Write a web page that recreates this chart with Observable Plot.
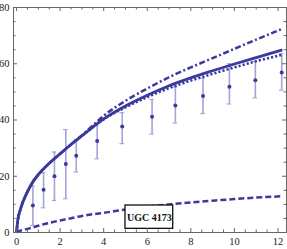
<!DOCTYPE html>
<html>
<head>
<meta charset="utf-8">
<script src="https://cdn.jsdelivr.net/npm/d3@7"></script>
<script src="https://cdn.jsdelivr.net/npm/@observablehq/plot@0.6"></script>
<style>
  html, body { margin: 0; padding: 0; background: white; }
  svg { display: block; }
</style>
</head>
<body>
<div id="chart"></div>
<script>
// Observed data (radius, velocity, error bounds)
const obsX  = [0.75, 1.24, 1.74, 2.26, 2.74, 3.70, 4.85, 6.22, 7.29, 8.56, 9.77, 10.96, 12.17];
const obsY  = [9.6, 15.2, 20.0, 24.4, 27.3, 32.5, 37.7, 41.2, 45.2, 48.5, 51.8, 54.1, 56.9];
const obsLo = [2.5, 8.8, 11.4, 12.0, 21.5, 26.2, 31.6, 35.0, 38.9, 42.3, 45.7, 47.9, 50.6];
const obsHi = [16.6, 21.3, 28.6, 36.6, 33.0, 38.6, 42.6, 47.3, 51.7, 54.9, 60.0, 60.9, 63.6];

// Model curves
const curveX   = [0, 0.05, 0.15, 0.3, 0.5, 0.75, 1, 1.5, 2, 2.5, 3, 3.5, 4, 5, 6, 7, 8, 9, 10, 11, 12.2];
const solidY   = [0, 4.0, 7.5, 11.0, 14.5, 18.0, 20.6, 24.6, 28.0, 31.3, 34.4, 37.5, 40.4, 45.0, 48.8, 52.2, 55.0, 57.5, 59.9, 62.2, 64.9];
const dottedY  = [0, 4.0, 7.5, 11.0, 14.5, 18.0, 20.6, 24.6, 28.0, 31.3, 34.3, 37.4, 40.2, 44.5, 48.1, 51.3, 54.0, 56.4, 58.7, 60.9, 63.2];
const dashDotY = [0, 4.0, 7.5, 11.0, 14.5, 18.0, 20.6, 24.6, 28.0, 31.3, 34.6, 38.1, 41.5, 46.8, 51.2, 55.2, 58.7, 62.0, 65.3, 68.6, 72.4];
const dashedY  = [0, 0.3, 0.6, 0.9, 1.3, 1.8, 2.4, 3.4, 4.3, 5.1, 5.9, 6.5, 7.0, 8.2, 9.2, 10.0, 10.7, 11.3, 11.9, 12.4, 12.9];

// Axis ticks
const xMajor = [0, 2, 4, 6, 8, 10, 12];
const xMinor = [0.5, 1, 1.5, 2.5, 3, 3.5, 4.5, 5, 5.5, 6.5, 7, 7.5, 8.5, 9, 9.5, 10.5, 11, 11.5];
const yMajor = [0, 20, 40, 60, 80];
const yMinor = [5, 10, 15, 25, 30, 35, 45, 50, 55, 65, 70, 75];

// Label
const labelText = ["UGC 4173"];
const labelBox = [{x1: 5.0, x2: 7.19, y1: 1.3, y2: 9.6, xc: 6.1, yc: 5.3}];

const obs = obsX.map((x, i) => ({x, y: obsY[i], lo: obsLo[i], hi: obsHi[i]}));
const mk = ys => curveX.map((x, i) => ({x, y: ys[i]}));

const W = 287, H = 249;
const mL = 13, mR = 1, mT = 7, mB = 17;
const pw = W - mL - mR, ph = H - mT - mB;
const col = "#3a3a9e";
const errCol = "#a4a4d6";
const tickCol = "#666";
const lineOpts = {x: "x", y: "y", stroke: col, strokeWidth: 2.5, strokeLinecap: "butt", strokeLinejoin: "miter", curve: "monotone-x"};

const chart = Plot.plot({
  width: W, height: H,
  marginLeft: mL, marginRight: mR, marginTop: mT, marginBottom: mB,
  style: {fontFamily: "Liberation Serif", fontSize: "10.5px", background: "white", color: "#222"},
  x: {domain: [-0.14, 12.39]},
  y: {domain: [0, 80]},
  marks: [
    Plot.axisX(xMajor, {tickSize: 0, tickPadding: 5, tickFormat: d => d, fill: "#222"}),
    Plot.axisY(yMajor, {tickSize: 0, tickPadding: 4, tickFormat: d => d, fill: "#222"}),
    // error bars
    Plot.ruleX(obs, {x: "x", y1: "lo", y2: "hi", stroke: errCol, strokeWidth: 1.6}),
    Plot.ruleY(obs, {y: "lo", x1: "x", x2: "x", insetLeft: -2.2, insetRight: -2.2, stroke: errCol, strokeWidth: 1.2}),
    Plot.ruleY(obs, {y: "hi", x1: "x", x2: "x", insetLeft: -2.2, insetRight: -2.2, stroke: errCol, strokeWidth: 1.2}),
    // curves
    Plot.line(mk(dashedY), {...lineOpts, strokeDasharray: "6,3"}),
    Plot.line(mk(dashDotY), {...lineOpts, strokeDasharray: "6,2.5,2,2.5"}),
    Plot.line(mk(dottedY), {...lineOpts, strokeDasharray: "2.2,2"}),
    Plot.line(mk(solidY), {...lineOpts, strokeWidth: 2.8}),
    Plot.dot(obs, {x: "x", y: "y", r: 2, fill: col, stroke: "none"}),
    // label
    Plot.rect(labelBox, {x1: "x1", x2: "x2", y1: "y1", y2: "y2", fill: "white", stroke: "#111", strokeWidth: 1.3}),
    Plot.text(labelBox, {x: "xc", y: "yc", text: () => labelText[0], fontWeight: "bold", fontSize: 10, fill: "#111"}),
    // frame and inward ticks
    Plot.frame({stroke: tickCol, strokeWidth: 1}),
    Plot.tickX(xMajor, {x: d => d, insetTop: ph - 4, stroke: tickCol}),
    Plot.tickX(xMajor, {x: d => d, insetBottom: ph - 4, stroke: tickCol}),
    Plot.tickX(xMinor, {x: d => d, insetTop: ph - 2.5, stroke: tickCol}),
    Plot.tickX(xMinor, {x: d => d, insetBottom: ph - 2.5, stroke: tickCol}),
    Plot.tickY(yMajor, {y: d => d, insetRight: pw - 4, stroke: tickCol}),
    Plot.tickY(yMajor, {y: d => d, insetLeft: pw - 4, stroke: tickCol}),
    Plot.tickY(yMinor, {y: d => d, insetRight: pw - 2.5, stroke: tickCol}),
    Plot.tickY(yMinor, {y: d => d, insetLeft: pw - 2.5, stroke: tickCol})
  ]
});
document.getElementById("chart").appendChild(chart);
</script>
</body>
</html>
